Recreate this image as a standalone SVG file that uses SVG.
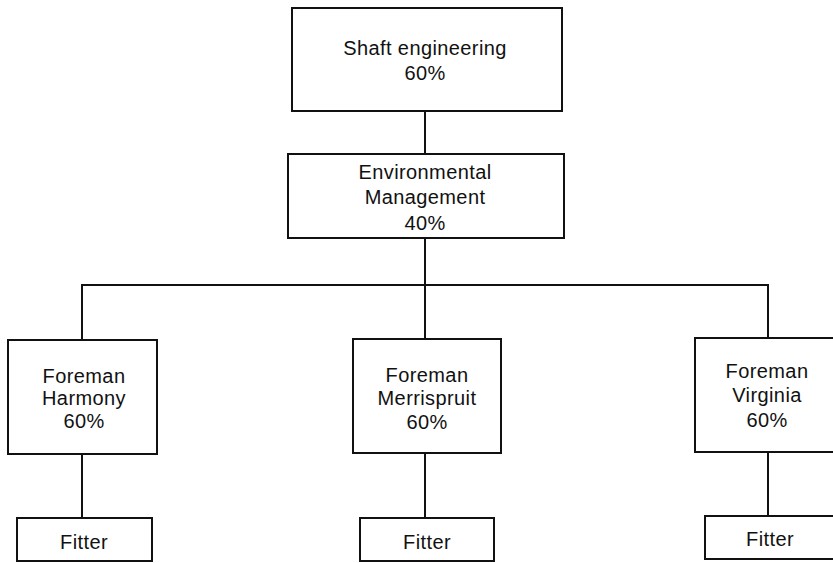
<svg xmlns="http://www.w3.org/2000/svg" width="833" height="563" viewBox="0 0 833 563">
  <style>
    .box { fill: #ffffff; stroke: #111111; stroke-width: 2; }
    .wire { fill: none; stroke: #111111; stroke-width: 2; }
    .label { font-family: "Liberation Sans", Arial, sans-serif; font-size: 20px; letter-spacing: 0.4px; fill: #111111; text-anchor: middle; }
  </style>
  <rect width="833" height="563" fill="#ffffff"/>

  <!-- connectors -->
  <g id="connectors">
    <line class="wire" x1="425" y1="111" x2="425" y2="154"/>
    <line class="wire" x1="425" y1="238" x2="425" y2="285"/>
    <polyline class="wire" points="82,340 82,285 768,285 768,338"/>
    <line class="wire" x1="425" y1="285" x2="425" y2="339"/>
    <line class="wire" x1="82" y1="454" x2="82" y2="518"/>
    <line class="wire" x1="425" y1="453" x2="425" y2="518"/>
    <line class="wire" x1="768" y1="452" x2="768" y2="516"/>
  </g>

  <g id="shaft-engineering">
    <rect class="box" x="292" y="8" width="270" height="103"/>
    <text class="label" x="425" y="55">Shaft engineering</text>
    <text class="label" x="425" y="80">60%</text>
  </g>

  <g id="environmental-management">
    <rect class="box" x="288" y="154" width="276" height="84"/>
    <text class="label" x="425" y="179">Environmental</text>
    <text class="label" x="425" y="204">Management</text>
    <text class="label" x="425" y="230">40%</text>
  </g>

  <g id="foreman-harmony">
    <rect class="box" x="8" y="340" width="149" height="114"/>
    <text class="label" x="84" y="383">Foreman</text>
    <text class="label" x="84" y="405">Harmony</text>
    <text class="label" x="84" y="428">60%</text>
  </g>

  <g id="foreman-merrispruit">
    <rect class="box" x="353" y="339" width="148" height="114"/>
    <text class="label" x="427" y="382">Foreman</text>
    <text class="label" x="427" y="405">Merrispruit</text>
    <text class="label" x="427" y="429">60%</text>
  </g>

  <g id="foreman-virginia">
    <rect class="box" x="695" y="338" width="148" height="114"/>
    <text class="label" x="767" y="378">Foreman</text>
    <text class="label" x="767" y="402">Virginia</text>
    <text class="label" x="767" y="427">60%</text>
  </g>

  <g id="fitter-harmony">
    <rect class="box" x="17" y="518" width="135" height="43"/>
    <text class="label" x="84" y="549">Fitter</text>
  </g>

  <g id="fitter-merrispruit">
    <rect class="box" x="360" y="518" width="134" height="43"/>
    <text class="label" x="427" y="549">Fitter</text>
  </g>

  <g id="fitter-virginia">
    <rect class="box" x="705" y="516" width="136" height="43"/>
    <text class="label" x="770" y="546">Fitter</text>
  </g>
</svg>
